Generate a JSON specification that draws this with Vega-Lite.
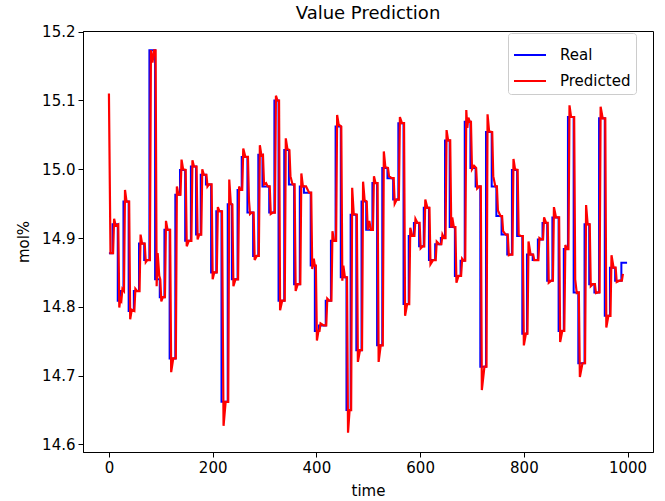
{
  "$schema": "https://vega.github.io/schema/vega-lite/v6.json",
  "width": 570,
  "height": 421,
  "autosize": {"type": "none"},
  "padding": {"left": 83, "top": 31, "right": 12, "bottom": 49},
  "background": "white",
  "title": {"text": "Value Prediction", "font": "DejaVu Sans", "fontSize": 18, "fontWeight": "normal", "color": "black", "offset": 2},
  "config": {
    "view": {"stroke": "black", "strokeWidth": 1},
    "axis": {"domainColor": "black", "tickColor": "black", "labelColor": "black", "titleColor": "black", "labelFont": "DejaVu Sans", "titleFont": "DejaVu Sans", "labelFontSize": 15, "titleFontSize": 15, "titleFontWeight": "normal", "tickSize": 5, "grid": false, "labelPadding": 3},
    "legend": {"labelFont": "DejaVu Sans", "labelFontSize": 15, "labelColor": "black"}
  },
  "datasets": {
    "real": [
      {"time":0,"value":14.878},{"time":7,"value":14.92},{"time":17,"value":14.809},{"time":23,"value":14.823},{"time":28,"value":14.953},{"time":38,"value":14.794},{"time":48,"value":14.823},{"time":58,"value":14.892},{"time":68,"value":14.868},{"time":78,"value":15.173},{"time":89,"value":14.84},{"time":98,"value":14.814},{"time":107,"value":14.912},{"time":117,"value":14.725},{"time":128,"value":14.963},{"time":137,"value":14.999},{"time":147,"value":14.896},{"time":158,"value":15.004},{"time":168,"value":14.905},{"time":177,"value":14.992},{"time":187,"value":14.978},{"time":197,"value":14.85},{"time":207,"value":14.939},{"time":217,"value":14.662},{"time":229,"value":14.949},{"time":237,"value":14.84},{"time":248,"value":14.97},{"time":256,"value":15.018},{"time":267,"value":14.937},{"time":278,"value":14.874},{"time":288,"value":15.021},{"time":296,"value":14.975},{"time":309,"value":14.937},{"time":319,"value":15.1},{"time":327,"value":14.809},{"time":338,"value":15.028},{"time":347,"value":14.978},{"time":357,"value":14.833},{"time":368,"value":14.975},{"time":376,"value":14.966},{"time":389,"value":14.86},{"time":397,"value":14.765},{"time":405,"value":14.773},{"time":418,"value":14.809},{"time":428,"value":14.896},{"time":437,"value":15.062},{"time":447,"value":14.843},{"time":458,"value":14.65},{"time":466,"value":14.934},{"time":477,"value":14.737},{"time":487,"value":14.953},{"time":496,"value":14.912},{"time":508,"value":14.98},{"time":517,"value":14.744},{"time":527,"value":15.002},{"time":537,"value":14.987},{"time":548,"value":14.956},{"time":558,"value":15.067},{"time":568,"value":14.804},{"time":578,"value":14.903},{"time":588,"value":14.922},{"time":598,"value":14.888},{"time":607,"value":14.944},{"time":617,"value":14.868},{"time":629,"value":14.891},{"time":640,"value":14.9},{"time":648,"value":15.042},{"time":657,"value":14.916},{"time":667,"value":14.845},{"time":678,"value":14.867},{"time":686,"value":15.069},{"time":697,"value":15.002},{"time":707,"value":14.975},{"time":716,"value":14.713},{"time":727,"value":15.054},{"time":738,"value":14.975},{"time":747,"value":14.932},{"time":757,"value":14.905},{"time":768,"value":14.876},{"time":777,"value":14.999},{"time":787,"value":14.903},{"time":797,"value":14.761},{"time":806,"value":14.876},{"time":817,"value":14.868},{"time":827,"value":14.898},{"time":836,"value":14.922},{"time":845,"value":14.838},{"time":855,"value":14.93},{"time":867,"value":14.765},{"time":877,"value":14.884},{"time":885,"value":15.076},{"time":896,"value":14.821},{"time":905,"value":14.718},{"time":917,"value":14.92},{"time":926,"value":14.833},{"time":936,"value":14.821},{"time":945,"value":15.074},{"time":956,"value":14.787},{"time":966,"value":14.857},{"time":976,"value":14.838},{"time":988,"value":14.864},{"time":999,"value":14.864}
    ],
    "pred": [
      {"time":0,"value":15.11},{"time":3,"value":14.878},
      {"time":8,"value":14.878},{"time":10,"value":14.928},{"time":13,"value":14.918},
      {"time":18,"value":14.92},{"time":20,"value":14.799},{"time":22,"value":14.812},
      {"time":24,"value":14.809},{"time":26,"value":14.826},
      {"time":29,"value":14.823},{"time":31,"value":14.97},{"time":34,"value":14.953},
      {"time":39,"value":14.953},{"time":41,"value":14.782},{"time":44,"value":14.796},
      {"time":49,"value":14.794},{"time":51,"value":14.826},{"time":54,"value":14.823},
      {"time":59,"value":14.823},{"time":61,"value":14.905},{"time":64,"value":14.892},
      {"time":69,"value":14.892},{"time":71,"value":14.865},{"time":74,"value":14.868},
      {"time":79,"value":14.868},{"time":81,"value":15.173},{"time":84,"value":15.155},{"time":87,"value":15.173},
      {"time":90,"value":15.173},{"time":92,"value":14.83},{"time":94,"value":14.878},{"time":97,"value":14.845},
      {"time":99,"value":14.84},{"time":101,"value":14.808},{"time":104,"value":14.814},
      {"time":108,"value":14.814},{"time":110,"value":14.925},{"time":113,"value":14.912},
      {"time":118,"value":14.912},{"time":120,"value":14.705},{"time":124,"value":14.725},
      {"time":129,"value":14.725},{"time":131,"value":14.975},{"time":134,"value":14.963},
      {"time":138,"value":14.963},{"time":140,"value":15.014},{"time":143,"value":15.0},
      {"time":148,"value":14.999},{"time":150,"value":14.888},{"time":154,"value":14.896},
      {"time":159,"value":14.896},{"time":161,"value":15.013},{"time":164,"value":15.004},
      {"time":169,"value":15.004},{"time":171,"value":14.898},{"time":174,"value":14.905},
      {"time":178,"value":14.905},{"time":180,"value":15.0},{"time":183,"value":14.992},
      {"time":188,"value":14.992},{"time":190,"value":14.975},{"time":193,"value":14.978},
      {"time":198,"value":14.978},{"time":200,"value":14.84},{"time":203,"value":14.85},
      {"time":208,"value":14.85},{"time":210,"value":14.945},{"time":213,"value":14.939},
      {"time":218,"value":14.939},{"time":221,"value":14.627},{"time":225,"value":14.662},
      {"time":230,"value":14.662},{"time":232,"value":14.985},{"time":235,"value":14.95},
      {"time":238,"value":14.949},{"time":240,"value":14.83},{"time":244,"value":14.84},
      {"time":249,"value":14.84},{"time":251,"value":14.975},{"time":254,"value":14.97},
      {"time":257,"value":14.97},{"time":259,"value":15.03},{"time":263,"value":15.018},
      {"time":268,"value":15.018},{"time":270,"value":14.955},{"time":272,"value":14.935},{"time":275,"value":14.937},
      {"time":279,"value":14.937},{"time":281,"value":14.868},{"time":285,"value":14.874},
      {"time":289,"value":14.874},{"time":291,"value":15.035},{"time":294,"value":15.02},
      {"time":297,"value":15.021},{"time":299,"value":14.978},{"time":303,"value":14.98},{"time":306,"value":14.975},
      {"time":310,"value":14.975},{"time":312,"value":14.935},{"time":316,"value":14.937},
      {"time":320,"value":14.937},{"time":322,"value":15.107},{"time":325,"value":15.1},
      {"time":328,"value":15.1},{"time":330,"value":14.795},{"time":334,"value":14.809},
      {"time":339,"value":14.809},{"time":341,"value":15.045},{"time":344,"value":15.03},
      {"time":348,"value":15.028},{"time":350,"value":14.99},{"time":354,"value":14.978},
      {"time":358,"value":14.978},{"time":360,"value":14.823},{"time":364,"value":14.833},
      {"time":369,"value":14.833},{"time":371,"value":14.994},{"time":374,"value":14.975},
      {"time":377,"value":14.975},{"time":380,"value":14.975},{"time":386,"value":14.966},
      {"time":390,"value":14.966},{"time":392,"value":14.855},{"time":395,"value":14.87},{"time":397,"value":14.86},
      {"time":399,"value":14.86},{"time":401,"value":14.751},{"time":404,"value":14.765},
      {"time":406,"value":14.765},{"time":408,"value":14.776},{"time":414,"value":14.773},
      {"time":419,"value":14.773},{"time":421,"value":14.812},{"time":425,"value":14.809},
      {"time":429,"value":14.809},{"time":431,"value":14.91},{"time":434,"value":14.896},
      {"time":438,"value":14.896},{"time":440,"value":15.079},{"time":443,"value":15.065},
      {"time":448,"value":15.062},{"time":450,"value":14.838},{"time":452,"value":14.86},{"time":455,"value":14.843},
      {"time":459,"value":14.843},{"time":461,"value":14.617},{"time":464,"value":14.65},
      {"time":467,"value":14.65},{"time":469,"value":14.973},{"time":472,"value":14.935},
      {"time":478,"value":14.934},{"time":480,"value":14.72},{"time":484,"value":14.737},
      {"time":488,"value":14.737},{"time":490,"value":14.982},{"time":493,"value":14.955},
      {"time":497,"value":14.953},{"time":499,"value":14.912},{"time":502,"value":14.925},{"time":505,"value":14.912},
      {"time":509,"value":14.912},{"time":511,"value":14.99},{"time":514,"value":14.98},
      {"time":518,"value":14.98},{"time":520,"value":14.72},{"time":524,"value":14.744},
      {"time":528,"value":14.744},{"time":530,"value":15.026},{"time":533,"value":15.003},
      {"time":538,"value":15.002},{"time":540,"value":14.99},{"time":545,"value":14.987},
      {"time":549,"value":14.987},{"time":551,"value":14.95},{"time":555,"value":14.956},
      {"time":559,"value":14.956},{"time":561,"value":15.076},{"time":565,"value":15.067},
      {"time":569,"value":15.067},{"time":571,"value":14.787},{"time":575,"value":14.804},
      {"time":579,"value":14.804},{"time":581,"value":14.915},{"time":585,"value":14.903},
      {"time":589,"value":14.903},{"time":591,"value":14.928},{"time":595,"value":14.922},
      {"time":599,"value":14.922},{"time":601,"value":14.885},{"time":605,"value":14.888},
      {"time":608,"value":14.888},{"time":610,"value":14.956},{"time":614,"value":14.944},
      {"time":618,"value":14.944},{"time":620,"value":14.862},{"time":625,"value":14.868},
      {"time":630,"value":14.868},{"time":632,"value":14.895},{"time":637,"value":14.891},
      {"time":641,"value":14.891},{"time":643,"value":14.905},{"time":646,"value":14.9},
      {"time":649,"value":14.9},{"time":651,"value":15.057},{"time":654,"value":15.042},
      {"time":658,"value":15.042},{"time":660,"value":14.915},{"time":662,"value":14.93},{"time":665,"value":14.916},
      {"time":668,"value":14.916},{"time":670,"value":14.835},{"time":674,"value":14.845},
      {"time":679,"value":14.845},{"time":681,"value":14.87},{"time":684,"value":14.867},
      {"time":687,"value":14.867},{"time":689,"value":15.086},{"time":691,"value":15.06},{"time":693,"value":15.075},{"time":696,"value":15.069},
      {"time":698,"value":15.069},{"time":700,"value":15.0},{"time":704,"value":15.005},
      {"time":708,"value":15.002},{"time":710,"value":14.972},{"time":714,"value":14.975},
      {"time":717,"value":14.975},{"time":719,"value":14.679},{"time":724,"value":14.713},
      {"time":728,"value":14.713},{"time":730,"value":15.08},{"time":733,"value":15.055},
      {"time":739,"value":15.054},{"time":741,"value":14.99},{"time":745,"value":14.975},
      {"time":748,"value":14.975},{"time":750,"value":14.94},{"time":755,"value":14.932},
      {"time":758,"value":14.932},{"time":760,"value":14.91},{"time":765,"value":14.905},
      {"time":769,"value":14.905},{"time":771,"value":14.875},{"time":775,"value":14.876},
      {"time":778,"value":14.876},{"time":780,"value":15.015},{"time":783,"value":15.0},
      {"time":788,"value":14.999},{"time":790,"value":14.905},{"time":794,"value":14.903},
      {"time":798,"value":14.903},{"time":800,"value":14.744},{"time":804,"value":14.761},
      {"time":807,"value":14.761},{"time":809,"value":14.895},{"time":813,"value":14.876},
      {"time":818,"value":14.876},{"time":820,"value":14.868},{"time":825,"value":14.868},
      {"time":828,"value":14.868},{"time":830,"value":14.9},{"time":834,"value":14.898},
      {"time":837,"value":14.898},{"time":839,"value":14.93},{"time":843,"value":14.922},
      {"time":846,"value":14.922},{"time":848,"value":14.835},{"time":853,"value":14.838},
      {"time":856,"value":14.838},{"time":858,"value":14.945},{"time":862,"value":14.93},
      {"time":868,"value":14.93},{"time":870,"value":14.749},{"time":874,"value":14.765},
      {"time":878,"value":14.765},{"time":880,"value":14.89},{"time":883,"value":14.884},
      {"time":886,"value":14.884},{"time":888,"value":15.093},{"time":891,"value":15.076},
      {"time":897,"value":15.076},{"time":899,"value":14.84},{"time":902,"value":14.82},
      {"time":906,"value":14.821},{"time":908,"value":14.698},{"time":913,"value":14.718},
      {"time":918,"value":14.718},{"time":920,"value":14.948},{"time":923,"value":14.92},
      {"time":927,"value":14.92},{"time":929,"value":14.83},{"time":933,"value":14.833},
      {"time":937,"value":14.833},{"time":939,"value":14.82},{"time":943,"value":14.821},
      {"time":946,"value":14.821},{"time":948,"value":15.091},{"time":952,"value":15.074},
      {"time":957,"value":15.074},{"time":959,"value":14.77},{"time":963,"value":14.787},
      {"time":967,"value":14.787},{"time":969,"value":14.875},{"time":973,"value":14.857},
      {"time":977,"value":14.857},{"time":979,"value":14.836},{"time":984,"value":14.838},
      {"time":989,"value":14.838},{"time":991,"value":14.848}
    ]
  },
  "encoding": {
    "x": {"field": "time", "type": "quantitative", "scale": {"domain": [-50, 1049], "nice": false, "zero": false}, "axis": {"values": [0, 200, 400, 600, 800, 1000], "format": "d", "title": "time", "titlePadding": 8}},
    "y": {"field": "value", "type": "quantitative", "scale": {"domain": [14.589, 15.201], "nice": false, "zero": false}, "axis": {"values": [14.6, 14.7, 14.8, 14.9, 15.0, 15.1, 15.2], "format": ".1f", "title": "mol%", "titlePadding": 10}}
  },
  "layer": [
    {
      "data": {"name": "real"},
      "mark": {"type": "line", "interpolate": "step-after", "strokeWidth": 2},
      "encoding": {
        "color": {"datum": "Real", "type": "nominal", "scale": {"domain": ["Real", "Predicted"], "range": ["#0000ff", "#ff0000"]},
          "legend": {"title": null, "orient": "none", "legendX": 425, "legendY": 2, "symbolType": "stroke", "symbolStrokeWidth": 2, "symbolSize": 1024, "strokeColor": "#cccccc", "fillColor": "white", "cornerRadius": 3, "padding": 5, "rowPadding": 1, "labelOffset": 13}}
      }
    },
    {
      "data": {"name": "pred"},
      "mark": {"type": "line", "interpolate": "linear", "strokeWidth": 2.2},
      "encoding": {
        "color": {"datum": "Predicted", "type": "nominal"}
      }
    }
  ]
}
